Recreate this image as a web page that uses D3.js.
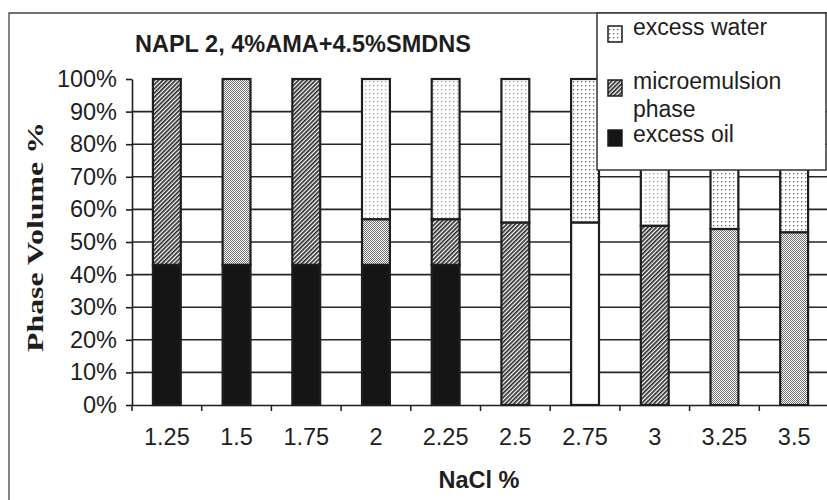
<!DOCTYPE html>
<html>
<head>
<meta charset="utf-8">
<script src="https://cdn.jsdelivr.net/npm/d3@7/dist/d3.min.js"></script>
<style>
  html, body { margin: 0; padding: 0; background: #fff; }
  svg { display: block; }
</style>
</head>
<body>
<script>
// NaCl concentrations (x categories)
const nacl = ["1.25", "1.5", "1.75", "2", "2.25", "2.5", "2.75", "3", "3.25", "3.5"];
// Phase volumes (%) stacked from the bottom of each tube
const excessOil     = [43, 43, 43, 43, 43, 0, 0, 0, 0, 0];
const microemulsion = [57, 57, 57, 14, 14, 56, 56, 55, 54, 53];
const excessWater   = [0, 0, 0, 43, 43, 44, 44, 45, 46, 47];
// Fill used for the middle and top segment of each bar
const microFill = ["hatch", "checker", "hatch", "checker", "hatch", "hatch", "blank", "hatch", "checker", "checker"];
const waterFill = ["dots", "dots", "dots", "dotsLight", "dotsLight", "dotsLight", "dots", "dotsLight", "dots", "dots"];
// Value axis ticks
const yTicks = [0, 10, 20, 30, 40, 50, 60, 70, 80, 90, 100];
const legendItems = ["excess water", "microemulsion", "excess oil"];

const W = 827, H = 500;
const ink = "#1e1e1e";
const sans = "'Liberation Sans', Arial, sans-serif";
const serif = "'Liberation Serif', 'Times New Roman', serif";

const svg = d3.select("body").append("svg").attr("width", W).attr("height", H);
const defs = svg.append("defs");

// Diagonal hatching
const hatch = defs.append("pattern").attr("id", "hatch").attr("patternUnits", "userSpaceOnUse")
  .attr("width", 3).attr("height", 3).attr("patternTransform", "rotate(45)");
hatch.append("rect").attr("width", 3).attr("height", 3).attr("fill", "#fff");
hatch.append("rect").attr("width", 1.7).attr("height", 3).attr("fill", "#2a2a2a");

// Fine checker stipple
const checker = defs.append("pattern").attr("id", "checker").attr("patternUnits", "userSpaceOnUse")
  .attr("width", 2).attr("height", 2);
checker.append("rect").attr("width", 2).attr("height", 2).attr("fill", "#fff");
checker.append("rect").attr("width", 1).attr("height", 1).attr("fill", "#6e6e6e");
checker.append("rect").attr("x", 1).attr("y", 1).attr("width", 1).attr("height", 1).attr("fill", "#6e6e6e");

// Sparse dot grids
[["dots", "#666666"], ["dotsLight", "#a0a0a0"]].forEach(([id, c]) => {
  const p = defs.append("pattern").attr("id", id).attr("patternUnits", "userSpaceOnUse")
    .attr("width", 4).attr("height", 4);
  p.append("rect").attr("width", 4).attr("height", 4).attr("fill", "#fff");
  p.append("rect").attr("x", 1).attr("y", 1).attr("width", 1.3).attr("height", 1.3).attr("fill", c);
});

const fillOf = key => key === "blank" ? "#fff" : `url(#${key})`;

// Scales
const x = d3.scaleBand().domain(nacl).range([132, 829]).paddingInner(0.6).paddingOuter(0.3);
const y = d3.scaleLinear().domain([0, 100]).range([405, 79]);

// Outer frame
svg.append("path").attr("d", `M9,500 V13 H830`).attr("fill", "none")
  .attr("stroke", "#444").attr("stroke-width", 1.3);

// Horizontal gridlines
svg.append("g").selectAll("line").data(yTicks.filter(t => t > 0 && t < 100)).join("line")
  .attr("x1", 132).attr("x2", 829).attr("y1", d => y(d)).attr("y2", d => y(d))
  .attr("stroke", "#262626").attr("stroke-width", 1.6);

// Stacked bars
const table = nacl.map((n, i) => ({ n, i, oil: excessOil[i], micro: microemulsion[i], water: excessWater[i] }));
const series = d3.stack().keys(["oil", "micro", "water"])(table);
const segFill = (key, i) => key === "oil" ? "#151515" : key === "micro" ? fillOf(microFill[i]) : fillOf(waterFill[i]);

svg.append("g").selectAll("g").data(series).join("g")
  .each(function (s) {
    d3.select(this).selectAll("rect").data(s.filter(d => d[1] - d[0] > 0)).join("rect")
      .attr("x", d => x(d.data.n))
      .attr("width", x.bandwidth())
      .attr("y", d => y(d[1]))
      .attr("height", d => y(d[0]) - y(d[1]))
      .attr("fill", d => segFill(s.key, d.data.i))
      .attr("stroke", ink).attr("stroke-width", 2.2);
  });

// Y axis
const yAxis = svg.append("g").attr("transform", "translate(132,0)")
  .call(d3.axisLeft(y).tickValues(yTicks).tickFormat(d => d + "%").tickSize(6).tickSizeOuter(0).tickPadding(9));
yAxis.select(".domain").attr("stroke", ink).attr("stroke-width", 1.6);
yAxis.selectAll(".tick line").attr("stroke", ink).attr("stroke-width", 1.6);
yAxis.selectAll(".tick text").attr("font-family", sans).attr("font-size", 23.5).attr("fill", ink);

// X axis: labels under bars, tick marks between categories
const xAxis = svg.append("g").attr("transform", "translate(0,405)")
  .call(d3.axisBottom(x).tickSize(0).tickPadding(23));
xAxis.select(".domain").attr("stroke", ink).attr("stroke-width", 1.6);
xAxis.selectAll(".tick text").attr("font-family", sans).attr("font-size", 23.5).attr("fill", ink);
svg.append("g").selectAll("line").data(d3.range(nacl.length + 1)).join("line")
  .attr("x1", i => x.range()[0] + i * x.step()).attr("x2", i => x.range()[0] + i * x.step())
  .attr("y1", 405).attr("y2", 411).attr("stroke", ink).attr("stroke-width", 1.5);

// Titles
svg.append("text").attr("x", 135).attr("y", 52).text("NAPL 2, 4%AMA+4.5%SMDNS")
  .attr("font-family", sans).attr("font-weight", "bold").attr("font-size", 23.5).attr("fill", ink);
svg.append("text").attr("x", 479).attr("y", 488).attr("text-anchor", "middle").text("NaCl %")
  .attr("font-family", sans).attr("font-weight", "bold").attr("font-size", 23.5).attr("fill", ink);
svg.append("text").attr("transform", "translate(43,237) rotate(-90)").attr("text-anchor", "middle")
  .attr("textLength", 230).attr("lengthAdjust", "spacingAndGlyphs").text("Phase Volume %")
  .attr("font-family", serif).attr("font-weight", "bold").attr("font-size", 23).attr("fill", ink);

// Legend
const lg = svg.append("g");
lg.append("rect").attr("x", 597).attr("y", 13).attr("width", 229).attr("height", 157)
  .attr("fill", "#fff").attr("stroke", "#333").attr("stroke-width", 1.5);
const swatches = [
  { fill: fillOf("dots"), y: 26 },
  { fill: fillOf("hatch"), y: 80 },
  { fill: "#151515", y: 130 }
];
lg.selectAll("rect.sw").data(swatches).join("rect").attr("class", "sw")
  .attr("x", 608).attr("y", d => d.y).attr("width", 14).attr("height", 16)
  .attr("fill", d => d.fill).attr("stroke", ink).attr("stroke-width", 1.5);
const lt = lg.append("g").attr("font-family", sans).attr("font-size", 23).attr("fill", ink);
lt.append("text").attr("x", 633).attr("y", 35).text(legendItems[0]);
lt.append("text").attr("x", 633).attr("y", 89).text(legendItems[1]);
lt.append("text").attr("x", 633).attr("y", 117).text("phase");
lt.append("text").attr("x", 633).attr("y", 142).text(legendItems[2]);
</script>
</body>
</html>
